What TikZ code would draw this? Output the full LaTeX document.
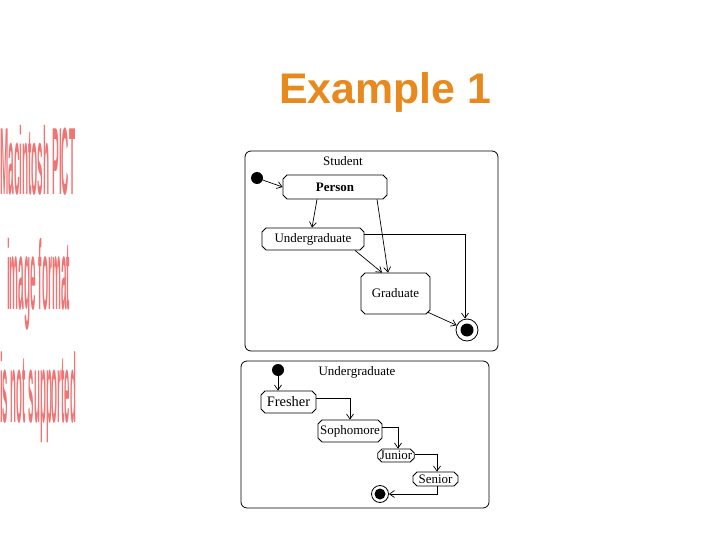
\documentclass[tikz,border=0pt]{standalone}
\usepackage{fontspec}
\setmainfont{Liberation Serif}
\setsansfont{Liberation Sans}
\usetikzlibrary{positioning,calc,arrows.meta,shapes.misc}
\definecolor{ttlorange}{HTML}{E8891E}
\definecolor{pictred}{HTML}{F07474}
\tikzset{
  every node/.append style={font=\fontsize{13}{15}\selectfont},
  frame/.style={draw, rounded corners=6bp, line width=0.8bp, inner sep=0pt},
  state/.style={draw, chamfered rectangle, chamfered rectangle xsep=2bp,
                chamfered rectangle ysep=2bp, line width=0.8bp, inner sep=0pt},
  init/.style={circle, fill=black, inner sep=0pt, minimum size=12bp},
  final/.style={circle, draw, line width=0.8bp, inner sep=0pt},
  trans/.style={-{Straight Barb[length=5bp,width=7bp]}, line width=0.7bp},
  pict/.style={text=pictred, inner sep=0pt, anchor=north west, font=\sffamily\bfseries},
}

\begin{document}
\begin{tikzpicture}[x=1bp,y=-1bp]
  \useasboundingbox (0,0) rectangle (720,540);
  % title
  \node[font=\sffamily\bfseries\fontsize{43}{50}\selectfont, text=ttlorange,
        anchor=base] (title) at (385,104) {Example 1};
  % missing picture notice
  \node[pict] (pict1) at (0,125) {\resizebox*{75bp}{70bp}{Macintosh PICT}};
  \node[pict] (pict2) at (7,238) {\resizebox*{63bp}{92bp}{image format}};
  \node[pict] (pict3) at (0,352) {\resizebox*{76bp}{91bp}{is not supported}};

  % Student
  \node[frame, minimum width=253bp, minimum height=200bp] (student) at (371.5,251) {};
  \node (studentlbl) at (343,161) {Student};
  \node[init] (s0) at (257,178) {};
  \node[state, minimum width=104bp, minimum height=24bp] (person) at (335,187) {\textbf{Person}};
  \node[state, minimum width=102bp, minimum height=22bp] (ug) at (313,239) {Undergraduate};
  \node[state, minimum width=69bp, minimum height=41bp] (grad) at (395.5,293.5) {Graduate};
  \node[final, minimum size=22bp] (s9) at (467,330) {};
  \fill (s9) circle (6.5bp);

  \draw[trans] (s0) -- (person.west);
  \draw[trans] ([xshift=-18bp]person.south) -- ([xshift=-1bp]ug.north);
  \draw[trans] ([xshift=42bp]person.south) -- ([xshift=-7.5bp]grad.north);
  \draw[trans] ([xshift=42bp]ug.south) -- ([xshift=-13.5bp]grad.north);
  \draw[trans] ([yshift=5bp]ug.east) -| ([xshift=-2bp]s9.north);
  \draw[trans] (grad.-30) -- (s9);

  % Undergraduate
  \node[frame, minimum width=248bp, minimum height=147bp] (under) at (365,434.5) {};
  \node (underlbl) at (357,372) {Undergraduate};
  \node[init] (u0) at (278,370) {};
  \node[state, minimum width=55bp, minimum height=22bp, font=\fontsize{14.5}{16}\selectfont]
    (fresher) at (288.5,402) {Fresher};
  \node[state, minimum width=64bp, minimum height=22bp] (soph) at (350,431) {Sophomore};
  \node[state, minimum width=36bp, minimum height=13bp] (junior) at (396,455.5) {Junior};
  \node[state, minimum width=45bp, minimum height=14bp] (senior) at (435.5,479) {Senior};
  \node[final, minimum size=17bp] (u9) at (380,494) {};
  \fill (u9) circle (5.5bp);

  \draw[trans] (u0) -- (u0 |- fresher.north);
  \draw[trans] ([yshift=4bp]fresher.east) -| (soph.north);
  \draw[trans] ([yshift=4bp]soph.east) -| ([xshift=2bp]junior.north);
  \draw[trans] ([yshift=1.5bp]junior.east) -| ([xshift=1.5bp]senior.north);
  \draw[trans] ([xshift=1.5bp]senior.south) |- (u9);
\end{tikzpicture}
\end{document}
